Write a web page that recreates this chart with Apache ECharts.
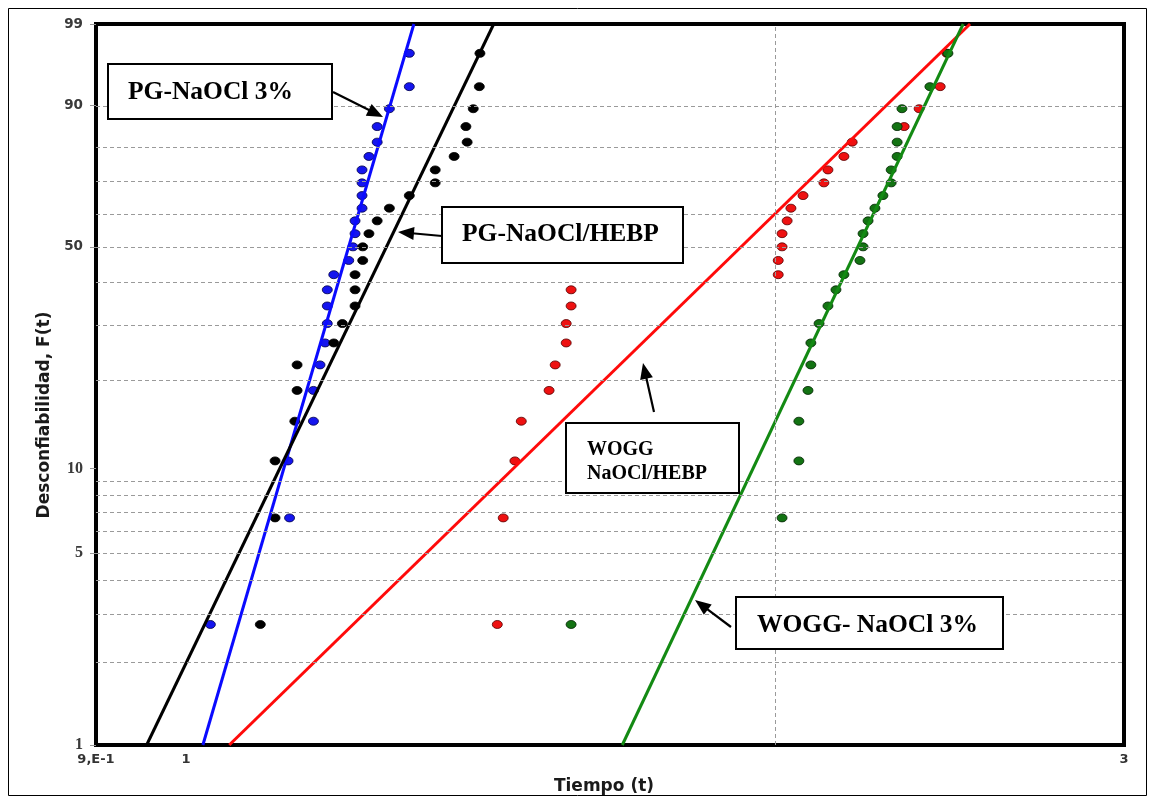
<!DOCTYPE html>
<html><head><meta charset="utf-8">
<script src="https://cdn.jsdelivr.net/npm/echarts@6/dist/echarts.min.js"></script>
<style>html,body{margin:0;padding:0;background:#fff}#c{width:1154px;height:798px}</style>
</head><body><div id="c"></div>
<script>
// Unreliability F(t) in %, median ranks read from the rows of points
const rankF = [2.76, 6.69, 10.63, 14.57, 18.50, 22.44, 26.38, 30.31, 34.25, 38.19, 42.13, 46.06, 50.00,
  53.94, 57.87, 61.81, 65.75, 69.69, 73.62, 77.56, 81.50, 85.43, 89.37, 93.31, 97.24];
// Times (t) per group
const pgNaOCl3 = [1.029, 1.129, 1.127, 1.161, 1.161, 1.170, 1.177, 1.180, 1.180, 1.180, 1.189, 1.210, 1.216,
  1.219, 1.219, 1.229, 1.229, 1.229, 1.229, 1.239, 1.251, 1.251, 1.269, 1.299, 1.299];
const pgNaOClHebp = [1.091, 1.110, 1.110, 1.136, 1.139, 1.139, 1.189, 1.201, 1.219, 1.219, 1.219, 1.230, 1.230,
  1.239, 1.251, 1.269, 1.299, 1.339, 1.339, 1.369, 1.390, 1.388, 1.400, 1.410, 1.411];
const woggNaOClHebp = [1.440, 1.450, 1.470, 1.481, 1.530, 1.541, 1.561, 1.561, 1.570, 1.570, 2.001, 2.001, 2.010,
  2.010, 2.022, 2.031, 2.060, 2.111, 2.121, 2.161, 2.182, 2.319, 2.360, 2.419, 2.438];
const woggNaOCl3 = [1.570, 2.010, 2.050, 2.050, 2.072, 2.079, 2.079, 2.099, 2.121, 2.141, 2.161, 2.202, 2.210,
  2.210, 2.223, 2.241, 2.262, 2.284, 2.284, 2.300, 2.300, 2.300, 2.313, 2.390, 2.441];
// Fitted Weibull lines: times at F = 1% and F = 99%
const fitF = [1, 99];
const fitPgNaOCl3 = [1.020, 1.306];
const fitPgNaOClHebp = [0.955, 1.434];
const fitWoggNaOClHebp = [1.052, 2.505];
const fitWoggNaOCl3 = [1.667, 2.485];
// Axis ticks
const yTickValues = [1, 5, 10, 50, 90, 99];
const yTickLabels = ['1', '5', '10', '50', '90', '99'];
const yGridValues = [2, 3, 4, 5, 6, 7, 8, 9, 20, 30, 40, 50, 60, 70, 80, 90];
const xTickValues = [0.9, 1, 3];
const xTickLabels = ['9,E-1', '1', '3'];
const xGridValues = [2];

const tx = t => Math.log(t);
const fy = F => Math.log(-Math.log(1 - F / 100));
const nearest = (vals, v) => { let b = 0; vals.forEach((x, i) => { if (Math.abs(x - v) < Math.abs(vals[b] - v)) b = i; }); return b; };
const xTickT = xTickValues.map(tx), yTickT = yTickValues.map(fy);
const serifY = ['1', '5', '10'];

const groups = [
  { name: 'PG-NaOCl 3%', t: pgNaOCl3, fit: fitPgNaOCl3, line: '#0a0aff', fill: '#1515ee', border: '#000044' },
  { name: 'PG-NaOCl/HEBP', t: pgNaOClHebp, fit: fitPgNaOClHebp, line: '#000000', fill: '#000000', border: '#000000' },
  { name: 'WOGG NaOCl/HEBP', t: woggNaOClHebp, fit: fitWoggNaOClHebp, line: '#ff0a0a', fill: '#ee1111', border: '#550000' },
  { name: 'WOGG- NaOCl 3%', t: woggNaOCl3, fit: fitWoggNaOCl3, line: '#138a13', fill: '#137313', border: '#002200' }
];

const series = [];
series.push({
  type: 'line', data: [], z: 1, silent: true,
  markLine: {
    silent: true, symbol: 'none', animation: false, label: { show: false },
    lineStyle: { color: '#9a9a9a', type: [4, 3], width: 1 },
    data: yGridValues.map(v => ({ yAxis: fy(v) })).concat(xGridValues.map(v => ({ xAxis: tx(v) })))
  }
});
groups.forEach(g => {
  series.push({
    name: g.name, type: 'scatter', z: 3, symbol: 'circle', symbolSize: [10, 8],
    itemStyle: { color: g.fill, borderColor: g.border, borderWidth: 0.8, opacity: 1 },
    data: g.t.map((t, i) => [tx(t), fy(rankF[i])])
  });
});
groups.forEach(g => {
  series.push({
    name: g.name + ' fit', type: 'line', z: 4, symbol: 'none', clip: true,
    lineStyle: { color: g.line, width: 3 },
    data: g.fit.map((t, i) => [tx(t), fy(fitF[i])])
  });
});

function arrow(x1, y1, x2, y2) {
  const L = 16, W = 6.5;
  const dx = x2 - x1, dy = y2 - y1, len = Math.hypot(dx, dy), ux = dx / len, uy = dy / len;
  const bx = x2 - ux * L, by = y2 - uy * L;
  return [
    { type: 'line', z: 100, shape: { x1, y1, x2: bx + ux * 2, y2: by + uy * 2 }, style: { stroke: '#000', lineWidth: 2.2 } },
    { type: 'polygon', z: 100, shape: { points: [[x2, y2], [bx - uy * W, by + ux * W], [bx + uy * W, by - ux * W]] }, style: { fill: '#000' } }
  ];
}
function box(x, y, w, h) {
  return { type: 'rect', z: 100, shape: { x, y, width: w, height: h }, style: { fill: '#fff', stroke: '#000', lineWidth: 2 } };
}
function label(text, x, y, size) {
  return { type: 'text', z: 101, x, y, style: { text, fill: '#000', font: 'bold ' + size + 'px "Liberation Serif"', textVerticalAlign: 'middle', textAlign: 'left' } };
}

const graphic = [
  { type: 'rect', z: 0, shape: { x: 8.5, y: 8.5, width: 1138, height: 787 }, style: { fill: 'none', stroke: '#000', lineWidth: 1 } },
  box(108, 64, 224, 55), label('PG-NaOCl 3%', 128, 92, 25.5),
  box(442, 207, 241, 56), label('PG-NaOCl/HEBP', 462, 234, 25.5),
  box(566, 423, 173, 70), label('WOGG', 587, 450, 20), label('NaOCl/HEBP', 587, 474, 20),
  box(736, 597, 267, 52), label('WOGG- NaOCl 3%', 757, 625, 25.5),
  ...arrow(333, 92, 383, 117),
  ...arrow(442, 236, 398, 232),
  ...arrow(654, 412, 643, 363),
  ...arrow(731, 627, 695, 600),
  { type: 'text', z: 50, x: 604, y: 787, style: { text: 'Tiempo (t)', fill: '#1a1a1a', font: 'bold 17px "DejaVu Sans"', textAlign: 'center', textVerticalAlign: 'middle' } },
  { type: 'text', z: 50, x: 45, y: 415, rotation: Math.PI / 2, style: { text: 'Desconfiabilidad, F(t)', fill: '#1a1a1a', font: 'bold 17px "DejaVu Sans"', textAlign: 'center', textVerticalAlign: 'middle' } }
];

const chart = echarts.init(document.getElementById('c'), null, { renderer: 'canvas' });
chart.setOption({
  animation: false,
  backgroundColor: '#fff',
  grid: { left: 96, right: 30, top: 24, bottom: 53, show: true, borderColor: '#000', borderWidth: 4, backgroundColor: 'transparent' },
  xAxis: {
    type: 'value', min: tx(0.9), max: tx(3),
    axisLine: { show: false, onZero: false }, splitLine: { show: false },
    axisTick: { show: false },
    axisLabel: {
      customValues: xTickT, margin: 8, color: '#333', fontFamily: 'DejaVu Sans', fontWeight: 'bold', fontSize: 13,
      formatter: v => xTickLabels[nearest(xTickT, v)], showMinLabel: true, showMaxLabel: true
    }
  },
  yAxis: {
    type: 'value', min: fy(1), max: fy(99),
    axisLine: { show: false, onZero: false }, splitLine: { show: false },
    axisTick: { show: true, customValues: yTickT, length: 6, lineStyle: { color: '#999', width: 1 } },
    axisLabel: {
      customValues: yTickT, margin: 13, showMinLabel: true, showMaxLabel: true,
      formatter: v => { const s = yTickLabels[nearest(yTickT, v)]; return serifY.indexOf(s) >= 0 ? '{s|' + s + '}' : '{n|' + s + '}'; },
      rich: {
        n: { color: '#3a3a3a', fontFamily: 'DejaVu Sans', fontWeight: 'bold', fontSize: 13.5 },
        s: { color: '#3a3a3a', fontFamily: 'Liberation Serif', fontWeight: 'bold', fontSize: 16 }
      }
    }
  },
  series,
  graphic
});
</script></body></html>
